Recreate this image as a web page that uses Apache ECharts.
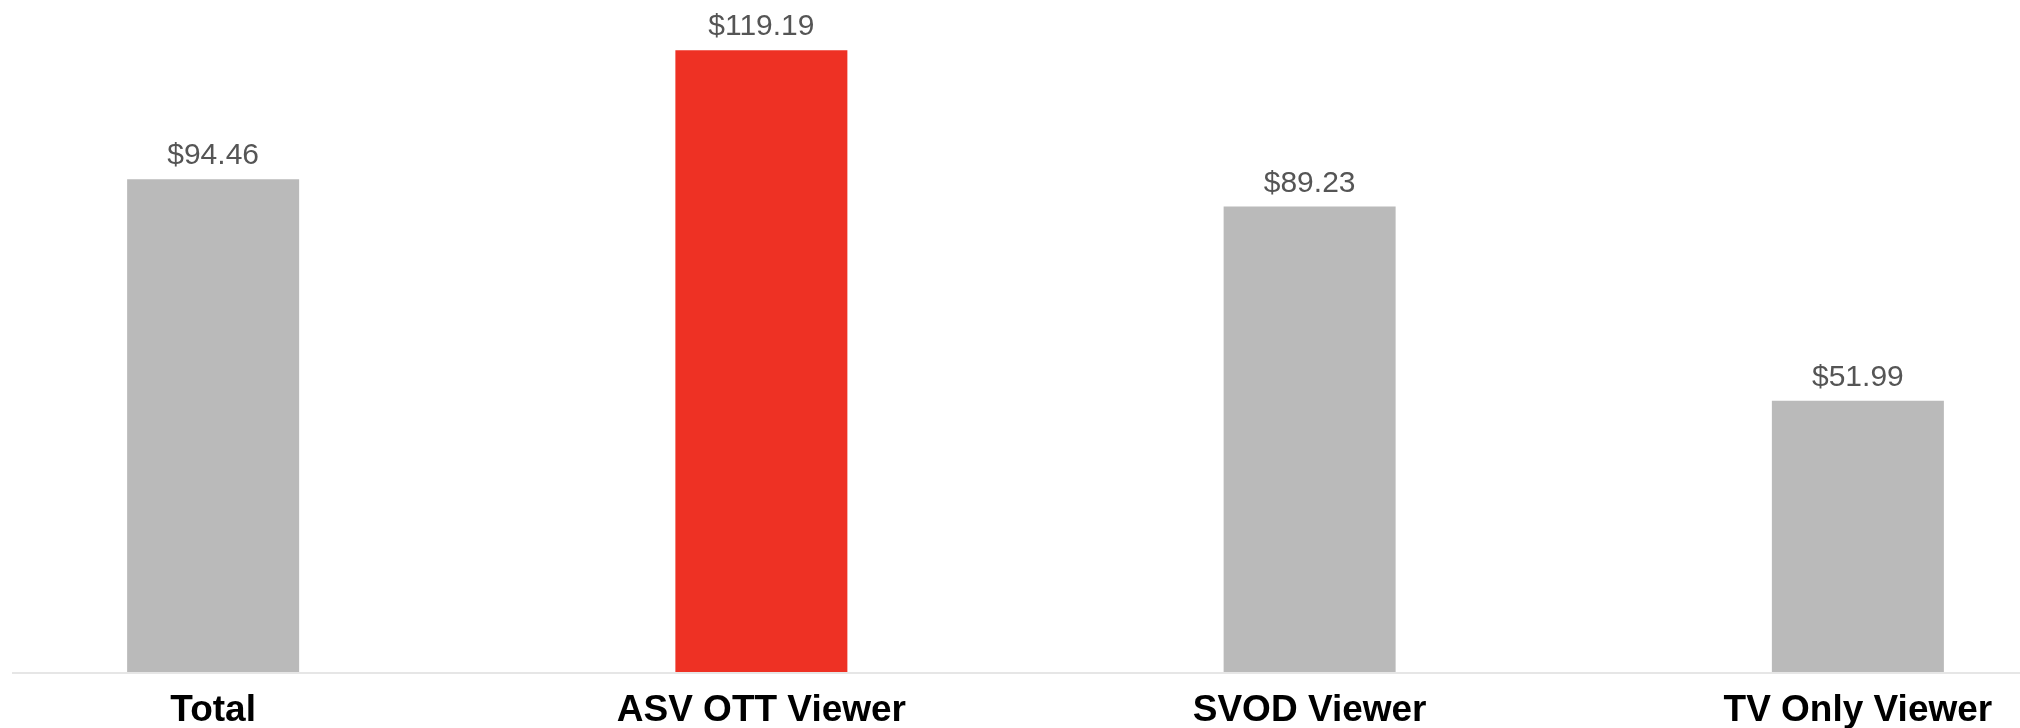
<!DOCTYPE html>
<html>
<head>
<meta charset="utf-8">
<script src="https://cdn.jsdelivr.net/npm/echarts@6/dist/echarts.min.js"></script>
<style>
html,body{margin:0;padding:0;background:#fff;overflow:hidden;width:2020px;height:728px;position:relative;}
#chart{position:absolute;left:-61px;top:0;width:2193px;height:728px;}
</style>
</head>
<body>
<div id="chart"></div>
<script>
const categories = ['Total', 'ASV OTT Viewer', 'SVOD Viewer', 'TV Only Viewer'];
const values = [94.46, 119.19, 89.23, 51.99];
const barColors = ['#bababa', '#ee3124', '#bababa', '#bababa'];

const chart = echarts.init(document.getElementById('chart'));
chart.setOption({
  animation: false,
  backgroundColor: '#ffffff',
  grid: { left: 0, right: 0, top: 46, bottom: 56, containLabel: false, outerBoundsMode: 'none' },
  xAxis: {
    type: 'category',
    data: categories,
    axisLine: { show: false },
    axisTick: { show: false },
    axisLabel: {
      color: '#000000',
      fontFamily: 'Liberation Sans, Arial, sans-serif',
      fontWeight: 'bold',
      fontSize: 37,
      margin: 20,
      interval: 0
    }
  },
  yAxis: {
    type: 'value',
    min: 0,
    max: 120,
    show: false,
    splitLine: { show: false }
  },
  graphic: [{
    type: 'line',
    shape: { x1: 73, y1: 673, x2: 2093, y2: 673 },
    style: { stroke: '#e6e6e6', lineWidth: 2 }
  }],
  series: [{
    type: 'bar',
    barWidth: 172,
    data: values.map((v, i) => ({ value: v, itemStyle: { color: barColors[i] } })),
    label: {
      show: true,
      position: 'top',
      distance: 8,
      color: '#555555',
      fontFamily: 'Liberation Sans, Arial, sans-serif',
      fontSize: 30,
      formatter: p => '$' + p.value.toFixed(2)
    }
  }]
});
</script>
</body>
</html>
